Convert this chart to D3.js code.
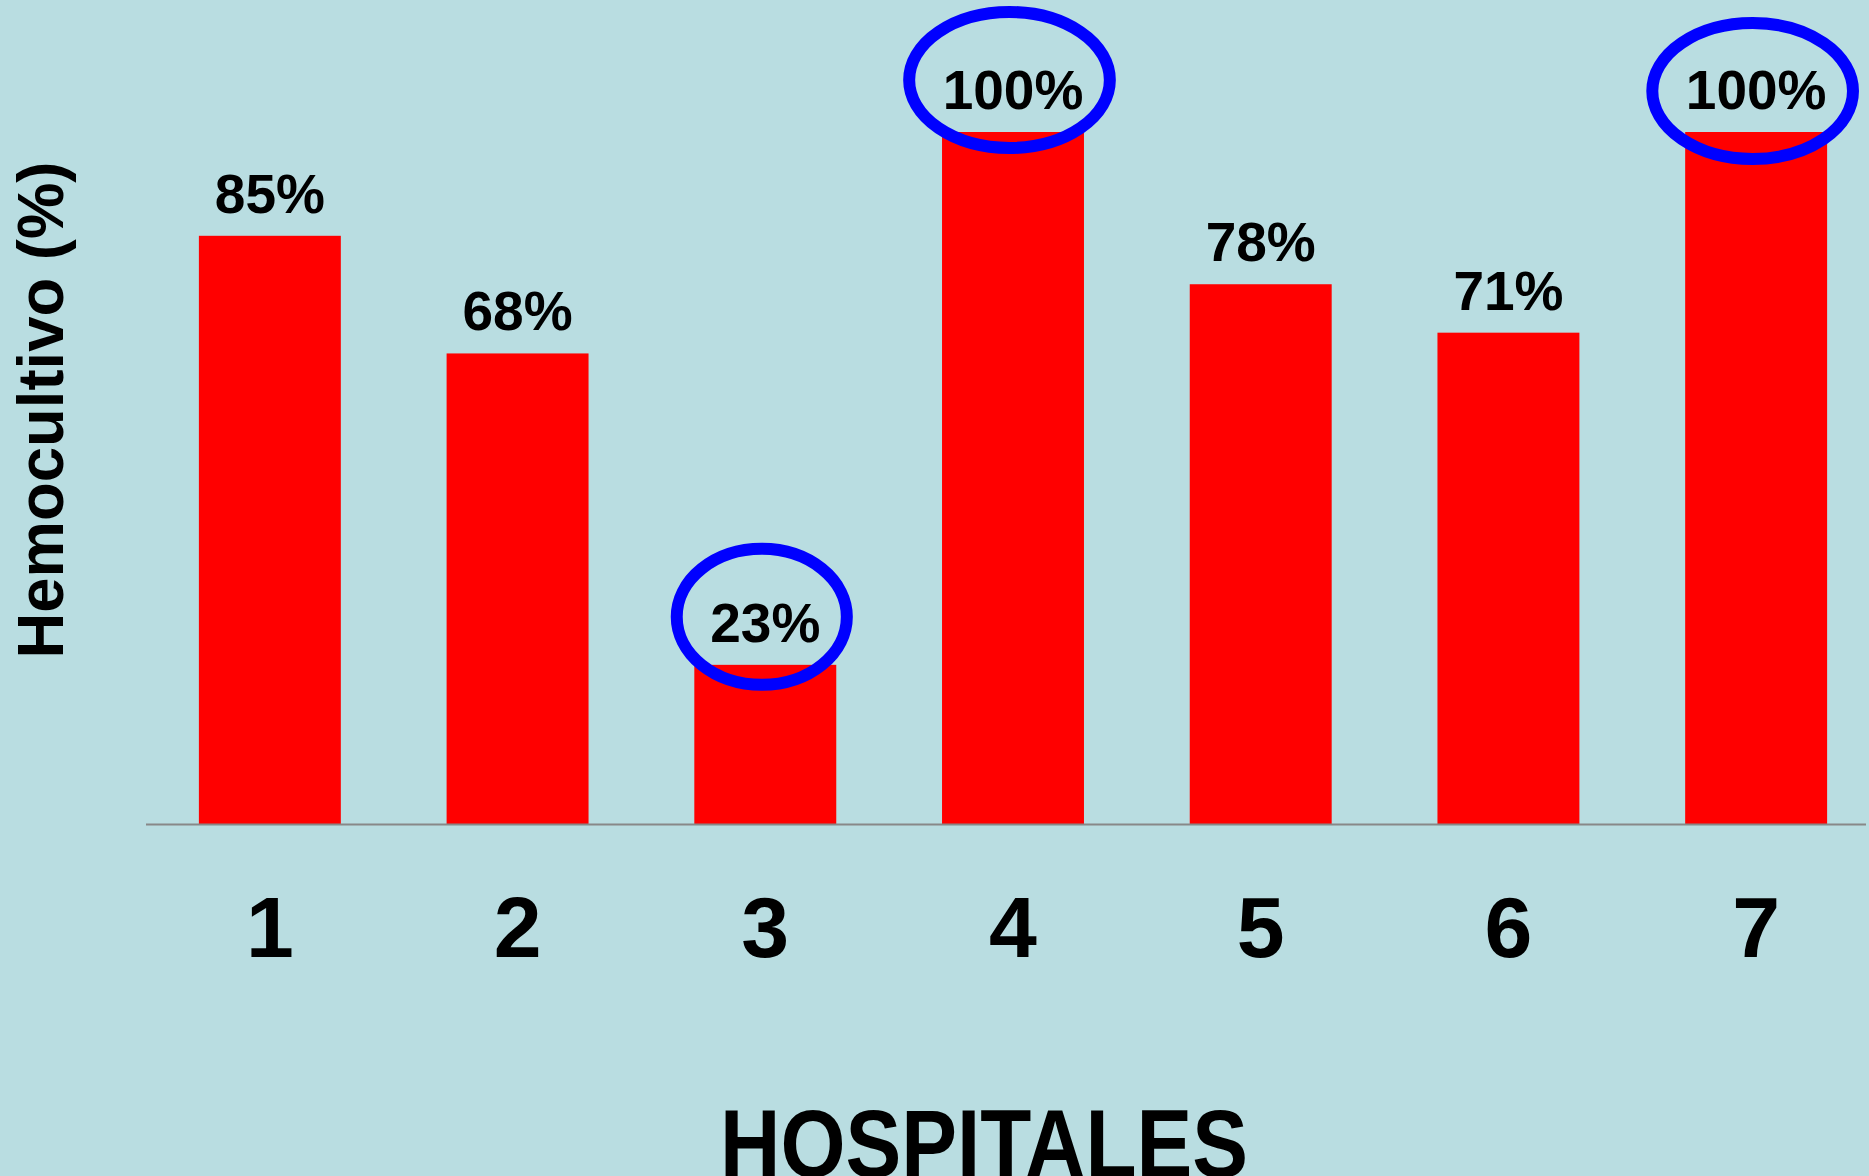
<!DOCTYPE html>
<html>
<head>
<meta charset="utf-8">
<script src="https://cdn.jsdelivr.net/npm/d3@7"></script>
<style>
  body { margin: 0; background: #b9dde1; }
  svg { display: block; font-family: "Liberation Sans", Arial, sans-serif; }
</style>
</head>
<body>
<div id="chart"></div>
<script>
var hospitales = ["1", "2", "3", "4", "5", "6", "7"];
var hemocultivo = [85, 68, 23, 100, 78, 71, 100];
var destacados = ["3", "4", "7"]; // circled in blue

var width = 1869, height = 1176;

var svg = d3.select('#chart').append("svg")
    .attr("width", width)
    .attr("height", height);

svg.append("rect")
    .attr("width", width)
    .attr("height", height)
    .attr("fill", "#b9dde1");

var x = d3.scaleBand()
    .domain(hospitales)
    .range([146, 1880])
    .paddingInner(0.427)
    .paddingOuter(0.2135);

var y = d3.scaleLinear()
    .domain([0, 100])
    .range([824, 132]);

var data = hospitales.map(function (h, i) {
    return {hospital: h, valor: hemocultivo[i]};
});

// bars
svg.selectAll(".bar")
    .data(data)
    .enter().append("rect")
    .attr("class", "bar")
    .attr("x", function (d) { return x(d.hospital); })
    .attr("y", function (d) { return y(d.valor); })
    .attr("width", x.bandwidth())
    .attr("height", function (d) { return y(0) - y(d.valor); })
    .attr("fill", "#ff0000");

// baseline
svg.append("line")
    .attr("x1", 146)
    .attr("x2", 1866)
    .attr("y1", y(0) + 0.5)
    .attr("y2", y(0) + 0.5)
    .attr("stroke", "#888888")
    .attr("stroke-width", 2);

// value labels
var labels = svg.selectAll(".valor")
    .data(data)
    .enter().append("text")
    .attr("class", "valor")
    .attr("x", function (d) { return x(d.hospital) + x.bandwidth() / 2; })
    .attr("y", function (d) { return y(d.valor) - 23; })
    .attr("text-anchor", "middle")
    .attr("font-size", 55)
    .attr("font-weight", "bold")
    .attr("fill", "#000")
    .text(function (d) { return d.valor + "%"; });

// blue ellipses round the highlighted labels (hand drawn, so each sits a bit differently)
var subida = {"3": 25, "4": 29, "7": 18};
labels.each(function (d) {
    if (destacados.indexOf(d.hospital) < 0) return;
    var w = this.getComputedTextLength();
    svg.append("ellipse")
        .attr("cx", x(d.hospital) + x.bandwidth() / 2 - 3.5)
        .attr("cy", y(d.valor) - 23 - subida[d.hospital])
        .attr("rx", w / 2 + 30)
        .attr("ry", 68)
        .attr("fill", "none")
        .attr("stroke", "#0000ff")
        .attr("stroke-width", 12);
});

// x tick labels
svg.selectAll(".tick-label")
    .data(hospitales)
    .enter().append("text")
    .attr("class", "tick-label")
    .attr("x", function (d) { return x(d) + x.bandwidth() / 2; })
    .attr("y", 957)
    .attr("text-anchor", "middle")
    .attr("font-size", 86)
    .attr("font-weight", "bold")
    .text(function (d) { return d; });

// axis titles
svg.append("text")
    .attr("x", 984)
    .attr("y", 1177)
    .attr("text-anchor", "middle")
    .attr("font-size", 96)
    .attr("font-weight", "bold")
    .attr("textLength", 528)
    .attr("lengthAdjust", "spacingAndGlyphs")
    .text("HOSPITALES");

svg.append("text")
    .attr("transform", "translate(63,410) rotate(-90)")
    .attr("text-anchor", "middle")
    .attr("font-size", 65)
    .attr("font-weight", "bold")
    .attr("textLength", 497)
    .attr("lengthAdjust", "spacingAndGlyphs")
    .text("Hemocultivo (%)");
</script>
</body>
</html>
